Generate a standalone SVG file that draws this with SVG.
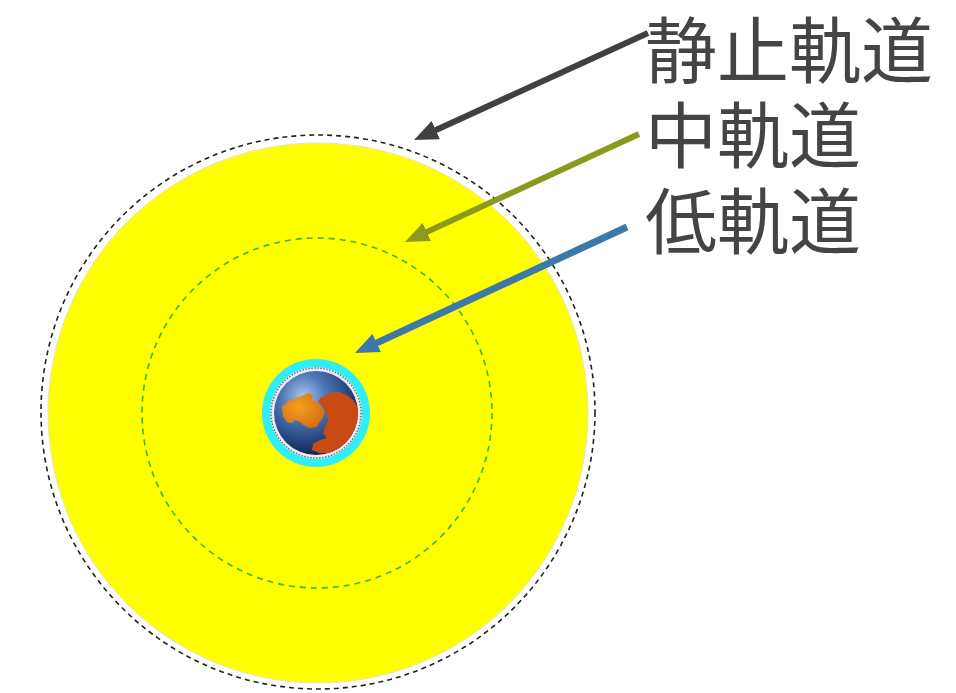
<svg xmlns="http://www.w3.org/2000/svg" width="956" height="693" viewBox="0 0 956 693">
  <style>
    .label { font-family: "Noto Sans CJK JP", "Noto Sans", sans-serif; font-size: 72px; fill: #444444; }
    .orbit { fill: none; }
  </style>
  <defs>
    <radialGradient id="globeShade" cx="0.35" cy="0.3" r="0.75">
      <stop offset="0" stop-color="#a9c4e8"/>
      <stop offset="0.35" stop-color="#4f78b8"/>
      <stop offset="0.75" stop-color="#23407a"/>
      <stop offset="1" stop-color="#0f1c3c"/>
    </radialGradient>
    <radialGradient id="landLight" cx="0.4" cy="0.4" r="0.7">
      <stop offset="0" stop-color="#f5a020"/>
      <stop offset="1" stop-color="#d06a10"/>
    </radialGradient>
    <clipPath id="globeClip">
      <circle cx="316" cy="413" r="42"/>
    </clipPath>
    <marker id="headDark" viewBox="0 0 24 20" refX="4" refY="10" markerWidth="24" markerHeight="20" markerUnits="userSpaceOnUse" orient="auto">
      <path d="M0,0 L24,10 L0,20 z" fill="#404040"/>
    </marker>
    <marker id="headOlive" viewBox="0 0 24 20" refX="4" refY="10" markerWidth="24" markerHeight="20" markerUnits="userSpaceOnUse" orient="auto">
      <path d="M0,0 L24,10 L0,20 z" fill="#8b9a1c"/>
    </marker>
    <marker id="headBlue" viewBox="0 0 24 20" refX="4" refY="10" markerWidth="24" markerHeight="20" markerUnits="userSpaceOnUse" orient="auto">
      <path d="M0,0 L24,10 L0,20 z" fill="#3c78a8"/>
    </marker>
  </defs>

  <rect width="956" height="693" fill="#ffffff"/>

  <!-- geostationary orbit and the zone inside it -->
  <g id="geo-orbit">
    <circle cx="318" cy="413" r="270" fill="#ffff00" stroke="#e4e4c8" stroke-width="1"/>
    <circle class="orbit" cx="318" cy="412" r="277" stroke="#222222" stroke-width="1.6" stroke-dasharray="5 4"/>
  </g>

  <!-- medium orbit -->
  <g id="medium-orbit">
    <circle class="orbit" cx="317" cy="413" r="175" stroke="#33b833" stroke-width="1.6" stroke-dasharray="6 5"/>
  </g>

  <!-- low orbit ring and the earth -->
  <g id="low-orbit-earth">
    <circle cx="316" cy="413" r="54" fill="#30eef8"/>
    <circle cx="316" cy="413" r="46" fill="#e6ecf2"/>
    <circle class="orbit" cx="316" cy="413" r="45" stroke="#666a70" stroke-width="1.4" stroke-dasharray="1.5 1.5"/>
    <circle cx="316" cy="413" r="42" fill="url(#globeShade)"/>
    <g clip-path="url(#globeClip)">
      <path fill="url(#landLight)" d="M281.7,406.7 L290,400 L300,396.7 L308.3,393.3 L313.3,395 L311.7,400 L316.7,401.7 L321.7,406.7 L325,411.7 L323.3,416.7 L320,421.7 L316.7,426.7 L310,428.3 L303.3,425 L300,421.7 L295,420 L291.7,423.3 L286.7,421.7 L283.3,416.7 Z"/>
      <path fill="#c94a12" d="M320,398.3 L330,393.3 L338.3,391.7 L346.7,395 L353.3,400 L358.3,408.3 L360,416.7 L358.3,426.7 L355,435 L348.3,443.3 L340,450 L330,453.3 L320,453.3 L311.7,450 L313.3,443.3 L320,440 L326.7,438.3 L323.3,433.3 L325,426.7 L328.3,420 L326.7,413.3 L323.3,406.7 L318.3,401.7 Z"/>
    </g>
  </g>

  <!-- labels -->
  <g id="label-geo"><text class="label" x="645" y="77">静止軌道</text></g>
  <g id="label-medium"><text class="label" x="645" y="162">中軌道</text></g>
  <g id="label-low"><text class="label" x="645" y="248">低軌道</text></g>

  <!-- pointers from labels to orbits -->
  <g id="connectors" fill="none" stroke-linecap="butt">
    <line x1="648" y1="33" x2="432.2" y2="131.7" stroke="#404040" stroke-width="6" marker-end="url(#headDark)"/>
    <line x1="639" y1="134" x2="423.2" y2="233.6" stroke="#8b9a1c" stroke-width="6" marker-end="url(#headOlive)"/>
    <line x1="627" y1="227" x2="373.1" y2="344.6" stroke="#3c78a8" stroke-width="7" marker-end="url(#headBlue)"/>
  </g>
</svg>
